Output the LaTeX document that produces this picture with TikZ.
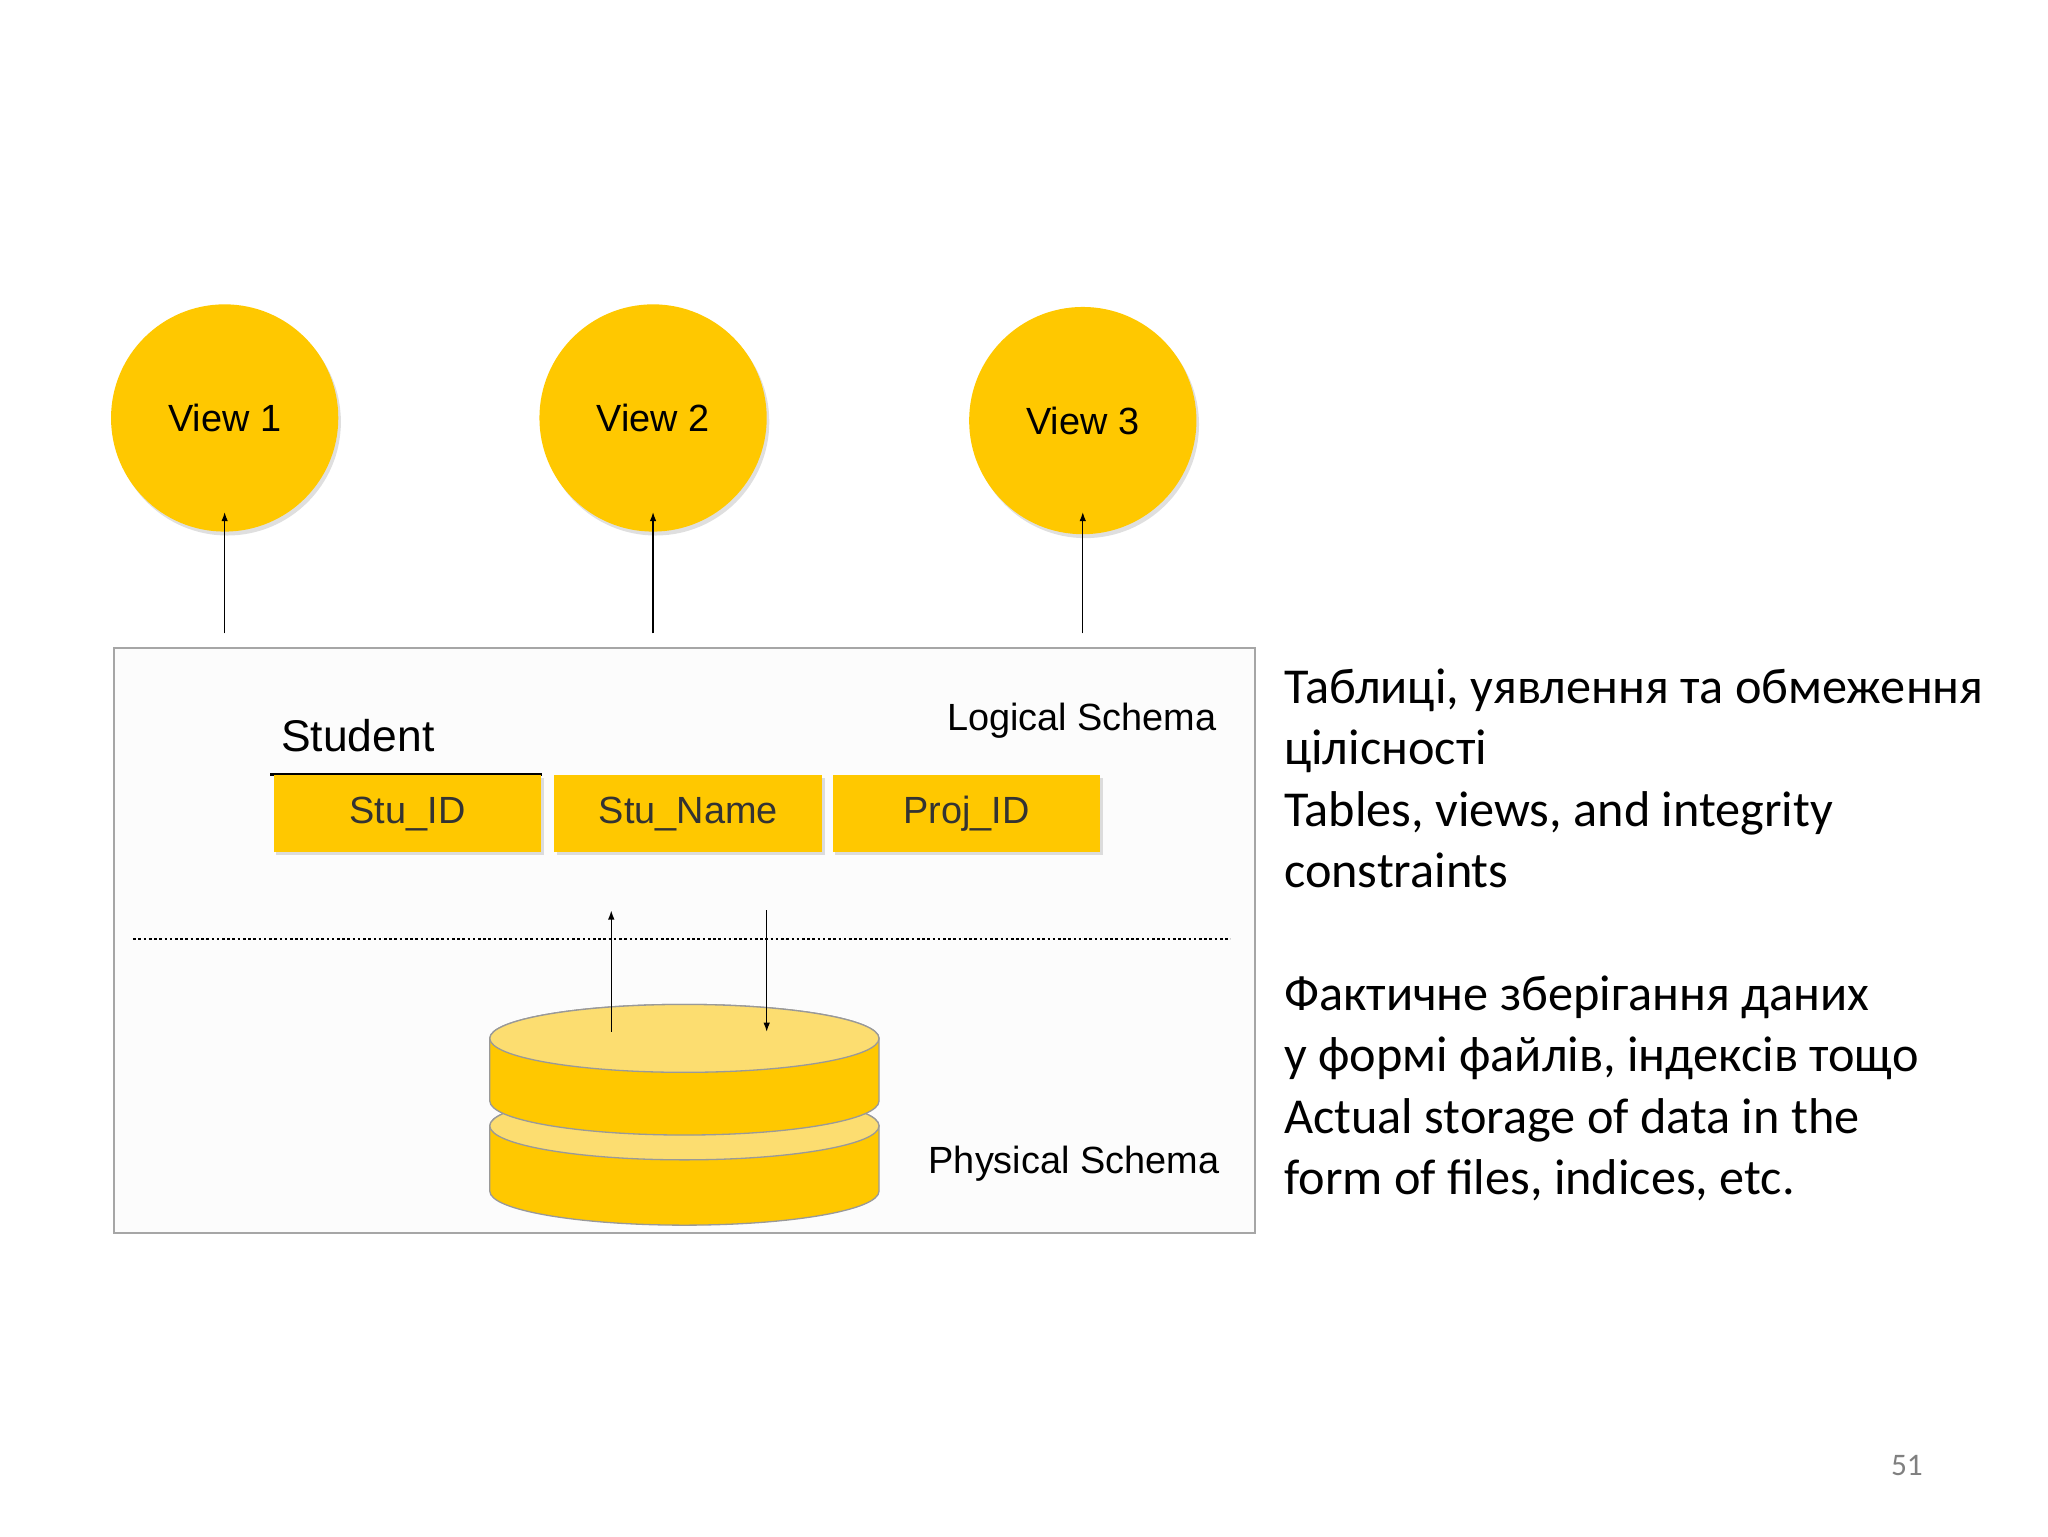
\documentclass[tikz,border=0pt]{standalone}
\usepackage{fontspec}
\setmainfont{Liberation Sans}
\newfontfamily\carlitofont{Carlito}
\usetikzlibrary{arrows.meta,shadows}
\definecolor{gold}{HTML}{FFC800}
\definecolor{lgold}{HTML}{FCDD70}
\begin{document}
\begin{tikzpicture}[x=1pt,y=-1pt,
  view/.style={circle,fill=gold,minimum size=174pt,font=\fontsize{29}{30}\selectfont,drop shadow={shadow xshift=2pt,shadow yshift=-3pt,opacity=0.25}},
  field/.style={fill=gold,minimum width=205pt,minimum height=59pt,font=\fontsize{29}{30}\selectfont,text=black!80,drop shadow={shadow xshift=2pt,shadow yshift=-2pt,opacity=0.25}},
  lab/.style={font=\fontsize{29}{30}\selectfont},
  rt/.style={font=\carlitofont\fontsize{38.5}{47}\selectfont,anchor=north west,align=left,inner sep=0},
  arr/.style={-{Latex[length=7pt,width=5pt]},line width=1pt}]
\useasboundingbox (0,0) rectangle (1568,1176);
\node[view] (v1) at (172,320) {View 1};
\node[view] (v2) at (500,320) {View 2};
\node[view] (v3) at (829,322) {View 3};
\draw[draw=black!35,line width=1.5pt,fill=black!1] (87,496) rectangle (961,944);
\foreach \x/\n in {172/1,500/2,829/3}{
  \coordinate (s\n) at (\x,485);
  \draw[arr] (s\n) -- (\x,392);}
\node[lab,anchor=east] (ls) at (935,552) {Logical Schema};
\node[font=\fontsize{34}{36}\selectfont] (st) at (274,563) {Student};
\draw[line width=2.5pt] (207,593) -- (415,593);
\node[field] (f1) at (312,623) {Stu\_ID};
\node[field] (f2) at (527,623) {Stu\_Name};
\node[field] (f3) at (740,623) {Proj\_ID};
\draw[line width=2pt,dotted] (102,719) -- (942,719);
\begin{scope}[draw=black!40,line width=1pt]
\fill[gold,draw=black!40] (375,862) -- (375,912) arc[start angle=180,end angle=0,x radius=149,y radius=26] -- (673,862) arc[start angle=360,end angle=180,x radius=149,y radius=26] -- cycle;
\draw[fill=lgold] (524,862) ellipse[x radius=149,y radius=26];
\fill[gold,draw=black!40] (375,795) -- (375,843) arc[start angle=180,end angle=0,x radius=149,y radius=26] -- (673,795) arc[start angle=360,end angle=180,x radius=149,y radius=26] -- cycle;
\draw[fill=lgold] (524,795) ellipse[x radius=149,y radius=26];
\end{scope}
\coordinate (a1) at (468,790); \coordinate (a2) at (587,697);
\draw[arr] (a1) -- (468,697);
\draw[arr] (a2) -- (587,790);
\node[lab,anchor=east] (ps) at (937,891) {Physical Schema};
\node[rt] (t1) at (983,512) {Таблиці, уявлення та обмеження\\цілісності\\Tables, views, and integrity\\constraints};
\node[rt] (t2) at (983,747) {Фактичне зберігання даних\\у формі файлів, індексів тощо\\Actual storage of data in the\\form of files, indices, etc.};
\node[font=\carlitofont\fontsize{24}{26}\selectfont,text=black!50] (pg) at (1460,1122) {51};
\end{tikzpicture}
\end{document}
